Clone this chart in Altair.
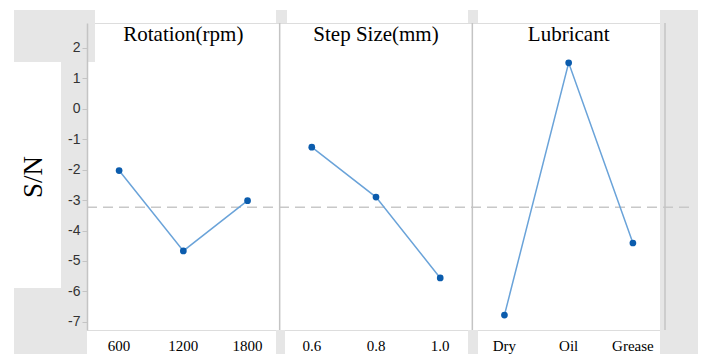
import altair as alt
import pandas as pd
import numpy as np

# ---- data ----
factors = ["Rotation(rpm)"] * 3 + ["Step Size(mm)"] * 3 + ["Lubricant"] * 3
levels = ["600", "1200", "1800", "0.6", "0.8", "1.0", "Dry", "Oil", "Grease"]
sn = [-2.03, -4.67, -3.02, -1.26, -2.90, -5.56, -6.78, 1.51, -4.41]

panel_titles = ["Rotation(rpm)", "Step Size(mm)", "Lubricant"]
title_levels = ["1200", "0.8", "Oil"]
divider_left = ["0.6", "Dry"]
divider_right = ["Grease"]
y_ticks = list(range(-7, 3))

df = pd.DataFrame({"factor": factors, "level": levels, "sn": sn})

W, H = 578, 307
PAD = {"left": 87, "top": 23, "right": 41, "bottom": 24}

# decorative grey backdrop (pixel positions relative to plot origin)
bx = [14, 61, 14, 87, 276, 468, 276, 468, 660]
bx2 = [95, 87, 87, 95, 287, 478, 285, 478, 698]
by = [10, 10, 288, 10, 10, 10, 330, 330, 10]
by2 = [62, 354, 354, 23, 23, 23, 354, 354, 354]
back = pd.DataFrame({
    "x": [v - PAD["left"] for v in bx], "x2": [v - PAD["left"] for v in bx2],
    "y": [v - PAD["top"] for v in by], "y2": [v - PAD["top"] for v in by2],
})

xscale = alt.Scale(domain=levels, paddingInner=0, paddingOuter=0)
yscale = alt.Scale(domain=[-7.27, 2.82], nice=False, zero=False)

xaxis = alt.Axis(title=None, labelAngle=0, labelAlign="center",
                 domain=False, ticks=False, zindex=1,
                 labelFont="Liberation Serif", labelFontSize=15,
                 labelColor="#000000", labelPadding=8,
                 labelBaseline="top")
yaxis = alt.Axis(title="S/N", values=y_ticks, grid=False, zindex=1,
                 labelOverlap=False,
                 labelExpr="datum.value < 0 ? '-' + abs(datum.value) : '' + datum.value",
                 domainColor="#c4c4c4", domainWidth=1.5,
                 tickColor="#c4c4c4", tickSize=5, tickWidth=1,
                 labelFont="Liberation Sans", labelFontSize=14,
                 labelColor="#333333", labelPadding=2,
                 titleFont="Liberation Serif", titleFontSize=27,
                 titleFontWeight="normal", titleColor="#000000",
                 titlePadding=20)

X = lambda **kw: alt.X("level:N", scale=xscale, sort=levels, axis=xaxis, **kw)
Y = lambda f="sn:Q": alt.Y(f, scale=yscale, axis=yaxis)

backdrop = alt.Chart(back).mark_rect(color="#e6e6e6").encode(
    x=alt.X("x:Q", scale=None, axis=None),
    x2="x2:Q",
    y=alt.Y("y:Q", scale=None, axis=None),
    y2="y2:Q",
)

base = alt.Chart(df)

line = base.mark_line(color="#6aa3d9", strokeWidth=1.5).encode(
    x=X(), y=Y(), detail="factor:N",
)

points = base.mark_point(filled=True, color="#0b5cad", size=45, opacity=1).encode(
    x=X(), y=Y(),
)

ref = base.mark_rule(color="#c8c8c8", strokeWidth=1.5, strokeDash=[10, 6]).encode(
    y=Y("mean(sn):Q"),
    x=alt.value(0),
    x2=alt.value(606),
)

div_l = alt.Chart(pd.DataFrame({"level": divider_left})).mark_rule(
    color="#c4c4c4", strokeWidth=1.5).encode(
    x=X(bandPosition=0), y=alt.value(0), y2=alt.value(H),
)
div_r = alt.Chart(pd.DataFrame({"level": divider_right})).mark_rule(
    color="#c4c4c4", strokeWidth=1.5).encode(
    x=X(bandPosition=1), y=alt.value(0), y2=alt.value(H),
)

titles = alt.Chart(pd.DataFrame({"level": title_levels, "t": panel_titles})).mark_text(
    font="Liberation Serif", fontSize=21, color="#000000", baseline="alphabetic"
).encode(
    x=X(), y=alt.value(18), text="t:N",
)

chart = alt.layer(backdrop, ref, div_l, div_r, line, points, titles).properties(
    width=W, height=H,
    autosize=alt.AutoSizeParams(type="none"),
    padding=PAD,
).configure_view(stroke=None).configure(background="#ffffff")

chart.save("out.html", embed_options={"renderer": "svg", "actions": False})
